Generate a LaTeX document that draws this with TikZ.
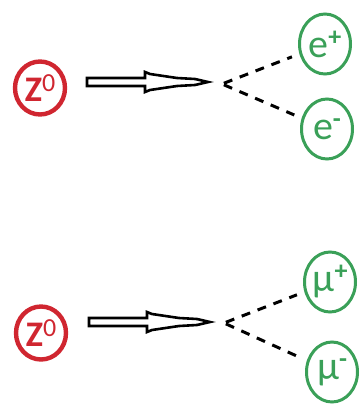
\documentclass[tikz,border=0pt]{standalone}
\usepackage{fontspec}
\setmainfont{Carlito}
\usetikzlibrary{positioning, shapes.geometric, calc}

\definecolor{bosonred}{RGB}{208,38,48}
\definecolor{leptongreen}{RGB}{58,160,88}

% raised charge label, larger than \textsuperscript
\newcommand\chg[2][0.30em]{\raisebox{#1}{\fontsize{26}{26}\selectfont #2}}

\begin{document}
\begin{tikzpicture}[
    x=1pt, y=-1pt,
    boson/.style={draw=bosonred, text=bosonred, ellipse, line width=4.4pt,
      minimum width=50pt, minimum height=53pt, inner sep=0pt,
      font=\fontsize{36}{36}\selectfont},
    lepton/.style={draw=leptongreen, text=leptongreen, ellipse, line width=3pt,
      minimum width=51pt, minimum height=60pt, inner sep=0pt,
      font=\fontsize{40}{40}\selectfont},
    decay/.style={dashed, line width=3pt, dash pattern=on 9pt off 8pt,
      shorten <=2pt, shorten >=8pt},
    hollow/.style={draw, line width=2.6pt, line join=miter, fill=white},
  ]
  \useasboundingbox (0,0) rectangle (360,404);

  % Z0 -> e+ e-
  \node[boson] (z1) at (40,88) {\textbf{Z}\chg[0.28em]{0}};
  \node[lepton] (ep) at (325,44) {e\chg{\textbf{+}}};
  \node[lepton] (em) at (327,129) {e\chg{\textbf{-}}};
  \coordinate (a1) at (87,82);
  \coordinate (v1) at (222,84);

  % Z0 -> mu+ mu-
  \node[boson] (z2) at (41,333) {\textbf{Z}\chg[0.28em]{0}};
  \node[lepton] (mp) at (330,282) {μ\chg{\textbf{+}}};
  \node[lepton] (mm) at (332,372) {μ\chg{\textbf{-}}};
  \coordinate (a2) at (89,322);
  \coordinate (v2) at (224,323);

  % hollow arrows
  \foreach \a in {a1, a2} {
    \begin{scope}[shift={(\a)}]
      \path[hollow] (0,-4) -- (58,-4) -- (58,-10) -- (63,-8) -- (90,-4)
        -- (108,-3) -- (121,0) -- (108,3) -- (90,4) -- (63,8) -- (58,10)
        -- (58,4) -- (0,4) -- cycle;
    \end{scope}
  }

  % decay products
  \draw[decay] (v1) -- (ep);
  \draw[decay] (v1) -- (em);
  \draw[decay] (v2) -- (mp);
  \draw[decay] (v2) -- (mm);
\end{tikzpicture}
\end{document}
